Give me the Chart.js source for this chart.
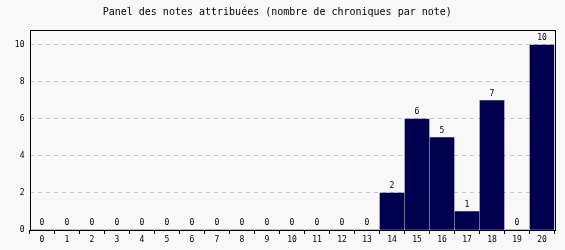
<!DOCTYPE html>
<html><head><meta charset="utf-8">
<script src="https://cdn.jsdelivr.net/npm/chart.js@4/dist/chart.umd.min.js"></script>
<style>html,body{margin:0;padding:0;background:#f8f8f8;}#wrap{width:565px;height:250px;}</style>
</head><body><div id="wrap"><canvas id="c" width="565" height="250"></canvas></div>
<script>
const categories = ["0","1","2","3","4","5","6","7","8","9","10","11","12","13","14","15","16","17","18","19","20"];
const counts = [0,0,0,0,0,0,0,0,0,0,0,0,0,0,2,6,5,1,7,0,10];
const yTicks = [0,2,4,6,8,10];
const titleText = "Panel des notes attribuées (nombre de chroniques par note)";

const mono = "'DejaVu Sans Mono', monospace";

const frame = {
  id: 'frame',
  beforeDraw(chart){
    const c = chart.ctx;
    c.save(); c.fillStyle = '#f8f8f8'; c.fillRect(0,0,chart.width,chart.height); c.restore();
  },
  afterDatasetsDraw(chart){
    const c = chart.ctx, a = chart.chartArea;
    const L = Math.ceil(a.left) + 0.5, R = Math.ceil(a.right) + 0.5;
    const T = Math.round(a.top) + 0.5, B = Math.round(a.bottom) + 0.5;
    c.save();
    c.strokeStyle = '#000'; c.lineWidth = 1;
    c.strokeRect(L, T, R - L, B - T);
    const meta = chart.getDatasetMeta(0);
    c.fillStyle = '#000';
    c.font = '8px ' + mono;
    c.textAlign = 'center';
    c.textBaseline = 'bottom';
    meta.data.forEach((bar, i) => {
      c.fillText(String(counts[i]), bar.x, bar.y - 3);
    });
    c.restore();
  }
};

new Chart(document.getElementById('c'), {
  type: 'bar',
  data: {
    labels: categories,
    datasets: [{
      data: counts,
      backgroundColor: '#000050',
      borderWidth: 0,
      barThickness: 24
    }]
  },
  options: {
    responsive: false,
    animation: false,
    devicePixelRatio: 1,
    layout: { padding: { left: 0, right: 10.5, top: 0, bottom: 0 } },
    plugins: {
      legend: { display: false },
      tooltip: { enabled: false },
      title: {
        display: true,
        text: titleText,
        color: '#000',
        font: { family: mono, size: 10, weight: 'normal', lineHeight: 1.2 },
        padding: { top: 6, bottom: 12 }
      }
    },
    scales: {
      x: {
        offset: true,
        grid: { display: true, drawOnChartArea: false, drawTicks: true, tickLength: 4, color: '#000', offset: true },
        border: { display: false },
        ticks: { color: '#000', font: { family: mono, size: 8 }, padding: 1, maxRotation: 0, autoSkip: false },
        afterFit(s){ s.height = 20; }
      },
      y: {
        min: 0,
        max: 10.81,
        afterBuildTicks(s){ s.ticks = yTicks.map(v => ({ value: v })); },
        grid: { color: '#c8c8c8', drawTicks: false },
        border: { display: false, dash: [4, 4] },
        ticks: { color: '#000', font: { family: mono, size: 8 }, padding: 5 },
        afterFit(s){ s.width = 29.5; }
      }
    }
  },
  plugins: [frame]
});
</script>
</body></html>
